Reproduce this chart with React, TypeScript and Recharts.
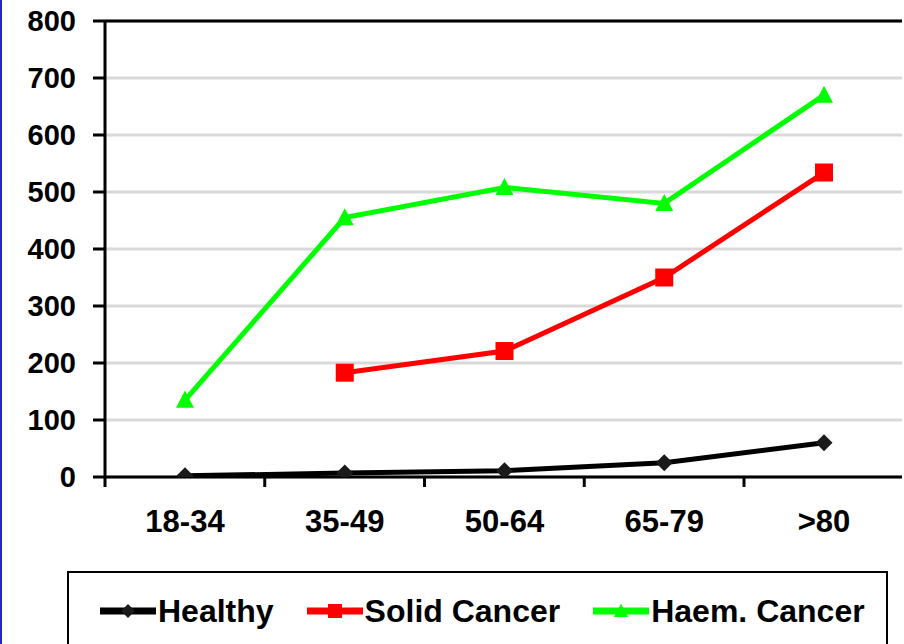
import React from 'react';
import { LineChart, Line, XAxis, YAxis, CartesianGrid, Legend, ReferenceLine } from 'recharts';

// Age bands on the category axis
const ageGroups = ['18-34', '35-49', '50-64', '65-79', '>80'];

// Series values per age band
const healthy = [2, 7, 11, 25, 60];
const solidCancer: (number | null)[] = [null, 183, 221, 350, 534];
const haemCancer = [135, 455, 508, 480, 670];

// Value-axis ticks
const yTicks = [0, 100, 200, 300, 400, 500, 600, 700, 800];

const seriesNames = ['Healthy', 'Solid Cancer', 'Haem. Cancer'];
const seriesKeys = ['healthy', 'solid', 'haem'];
const seriesColors = ['#000000', '#ff0000', '#00ff00'];
const markerFills = ['#1a1a1a', '#ff0000', '#00ff00'];
const markerShapes = ['diamond', 'square', 'triangle'];

const data = ageGroups.map((group, i) => ({
  group,
  healthy: healthy[i],
  solid: solidCancer[i],
  haem: haemCancer[i],
}));

const FONT = '"Liberation Sans", Arial, Helvetica, sans-serif';

// Half of one category slot: points sit in the middle of each slot
const HALF_SLOT = 80;

function markerPath(shape: string, cx: number, cy: number, s: number): string {
  if (shape === 'diamond') {
    return `M${cx},${cy - s} L${cx + s},${cy} L${cx},${cy + s} L${cx - s},${cy} Z`;
  }
  if (shape === 'square') {
    return `M${cx - s},${cy - s} L${cx + s},${cy - s} L${cx + s},${cy + s} L${cx - s},${cy + s} Z`;
  }
  return `M${cx},${cy - s * 1.05} L${cx + s},${cy + s * 0.85} L${cx - s},${cy + s * 0.85} Z`;
}

const makeDot = (idx: number) => (props: any) => {
  const { cx, cy, key, value } = props;
  if (value === null || value === undefined || cx == null || cy == null) {
    return <g key={key} />;
  }
  const size = markerShapes[idx] === 'diamond' ? 8.5 : 9;
  return <path key={key} d={markerPath(markerShapes[idx], cx, cy, size)} fill={markerFills[idx]} />;
};

// Category tick: label centred in the slot, tick mark on the slot boundary
const AgeTick = (props: any) => {
  const { x, y, payload } = props;
  const edge = x - HALF_SLOT;
  const axisY = y - 33;
  return (
    <g>
      <line x1={edge} x2={edge} y1={axisY} y2={axisY + 10} stroke="#000" strokeWidth={3} />
      <text
        x={x}
        y={y}
        dy="0.71em"
        textAnchor="middle"
        fontFamily={FONT}
        fontWeight="bold"
        fontSize={31}
        fill="#000"
      >
        {payload.value}
      </text>
    </g>
  );
};

const LegendBox = () => (
  <div
    style={{
      width: '100%',
      height: '100%',
      boxSizing: 'border-box',
      border: '2px solid #000',
      background: '#fff',
      display: 'flex',
      alignItems: 'flex-start',
      paddingLeft: 31,
      paddingTop: 20,
      fontFamily: FONT,
      fontWeight: 'bold',
      fontSize: 32,
      color: '#000',
    }}
  >
    {seriesNames.map((name, i) => (
      <div key={name} style={{ display: 'flex', alignItems: 'center', marginRight: 33, height: 36 }}>
        <svg width={56} height={20} style={{ marginRight: 2 }}>
          <line x1={0} x2={56} y1={10} y2={10} stroke={seriesColors[i]} strokeWidth={7} strokeLinecap="round" />
          <path d={markerPath(markerShapes[i], 28, 10, 7)} fill={markerFills[i]} />
        </svg>
        <span style={{ lineHeight: '36px', whiteSpace: 'nowrap' }}>{name}</span>
      </div>
    ))}
  </div>
);

export default function App() {
  return (
    <div style={{ position: 'absolute', left: 0, top: 0, width: 904, height: 644, background: '#fff', overflow: 'hidden' }}>
      <LineChart
        width={904}
        height={644}
        data={data}
        margin={{ top: 21, right: 2, left: 0, bottom: 107 }}
      >
        <CartesianGrid horizontal vertical={false} stroke="#d9d9d9" strokeWidth={3} />
        <XAxis
          dataKey="group"
          type="category"
          height={60}
          interval={0}
          padding={{ left: HALF_SLOT, right: HALF_SLOT - 2 }}
          axisLine={{ stroke: '#000', strokeWidth: 3 }}
          tickLine={false}
          tickSize={10}
          tickMargin={23}
          tick={<AgeTick />}
        />
        <YAxis
          width={105}
          domain={[0, 800]}
          ticks={yTicks}
          interval={0}
          allowDataOverflow
          axisLine={{ stroke: '#000', strokeWidth: 3 }}
          tickLine={{ stroke: '#000', strokeWidth: 3 }}
          tickSize={12}
          tickMargin={17}
          tick={{ fill: '#000', fontSize: 29, fontWeight: 'bold', fontFamily: FONT }}
        />
        <YAxis
          yAxisId="frame"
          orientation="right"
          width={0}
          domain={[0, 800]}
          tick={false}
          tickLine={false}
          axisLine={{ stroke: '#000', strokeWidth: 3 }}
        />
        <ReferenceLine y={800} stroke="#000" strokeWidth={3} />
        {seriesKeys.map((key, i) => (
          <Line
            key={key}
            type="linear"
            dataKey={key}
            name={seriesNames[i]}
            stroke={seriesColors[i]}
            strokeWidth={5}
            dot={makeDot(i)}
            activeDot={false}
            connectNulls={false}
            isAnimationActive={false}
          />
        ))}
        <Legend
          layout="horizontal"
          verticalAlign="middle"
          align="center"
          content={<LegendBox />}
          wrapperStyle={{ left: 67, top: 571, width: 821, height: 100 }}
        />
      </LineChart>
      <div style={{ position: 'absolute', left: 0, top: 0, width: 2, height: 644, background: '#2424c8' }} />
    </div>
  );
}
